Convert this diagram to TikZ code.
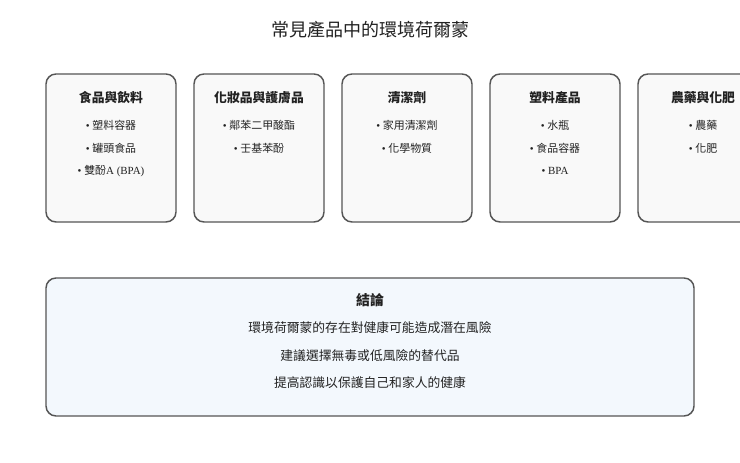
\documentclass[tikz,border=0pt]{standalone}
\usepackage{fontspec}
\setmainfont{Liberation Serif}
\newfontfamily\cjk{Noto Sans CJK TC}
\definecolor{boxfill}{HTML}{F9F9F9}
\definecolor{boxline}{HTML}{555555}
\definecolor{concfill}{HTML}{F3F8FD}
\definecolor{txt}{HTML}{222222}
\begin{document}
\begin{tikzpicture}[x=0.75pt,y=-0.75pt,
  catbox/.style={draw=boxline,fill=boxfill,line width=1.1pt,rounded corners=7.5pt},
  concbox/.style={draw=boxline,fill=concfill,line width=1.1pt,rounded corners=7.5pt},
  cattitle/.style={font=\cjk\fontsize{9.6}{11}\selectfont\bfseries,text=txt,anchor=center},
  item/.style={font=\fontsize{8.2}{10}\selectfont,text=txt,anchor=center},
  concline/.style={font=\cjk\fontsize{9.6}{11}\selectfont,text=txt,anchor=center}]
\useasboundingbox (0,0) rectangle (740,463);
\clip (0,0) rectangle (740,463);
\fill[white] (0,0) rectangle (740,463);
\node[font=\cjk\fontsize{13.5}{15}\selectfont,text=txt] (title) at (370,30) {常見產品中的環境荷爾蒙};
% category boxes
\foreach \n/\x in {b1/46,b2/194,b3/342,b4/490,b5/638}{
  \draw[catbox] (\x,74) rectangle ++(130,148);
}
\node[cattitle] (t1) at (111,98) {食品與飲料};
\node[item] (i11) at (111,125) {• {\cjk 塑料容器}};
\node[item] (i12) at (111,148) {• {\cjk 罐頭食品}};
\node[item] (i13) at (111,171) {• {\cjk 雙酚}A (BPA)};
\node[cattitle] (t2) at (259,98) {化妝品與護膚品};
\node[item] (i21) at (259,125) {• {\cjk 鄰苯二甲酸酯}};
\node[item] (i22) at (259,148) {• {\cjk 壬基苯酚}};
\node[cattitle] (t3) at (407,98) {清潔劑};
\node[item] (i31) at (407,125) {• {\cjk 家用清潔劑}};
\node[item] (i32) at (407,148) {• {\cjk 化學物質}};
\node[cattitle] (t4) at (555,98) {塑料產品};
\node[item] (i41) at (555,125) {• {\cjk 水瓶}};
\node[item] (i42) at (555,148) {• {\cjk 食品容器}};
\node[item] (i43) at (555,171) {• BPA};
\node[cattitle] (t5) at (703,98) {農藥與化肥};
\node[item] (i51) at (703,125) {• {\cjk 農藥}};
\node[item] (i52) at (703,148) {• {\cjk 化肥}};
% conclusion
\draw[concbox] (46,278) rectangle (694,416);
\node[font=\cjk\fontsize{10.5}{12}\selectfont\bfseries,text=txt] (ct) at (370,300) {結論};
\node[concline] (c1) at (370,328) {環境荷爾蒙的存在對健康可能造成潛在風險};
\node[concline] (c2) at (370,356) {建議選擇無毒或低風險的替代品};
\node[concline] (c3) at (370,383) {提高認識以保護自己和家人的健康};
\end{tikzpicture}
\end{document}
